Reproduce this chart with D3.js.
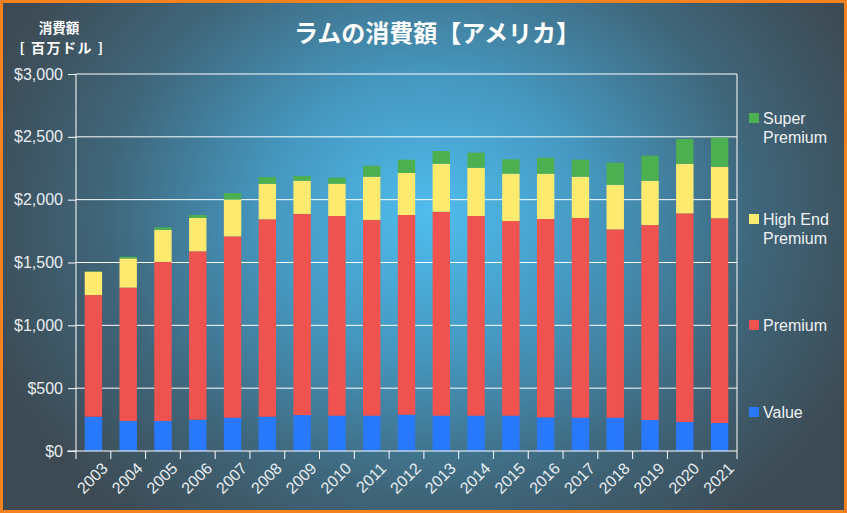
<!DOCTYPE html>
<html><head><meta charset="utf-8">
<script src="https://cdn.jsdelivr.net/npm/d3@7/dist/d3.min.js"></script>
<style>html,body{margin:0;padding:0;background:#fff;}svg{display:block;}</style>
</head><body>
<svg id="c" width="847" height="513"></svg>
<script>
const years = ["2003","2004","2005","2006","2007","2008","2009","2010","2011","2012","2013","2014","2015","2016","2017","2018","2019","2020","2021"];
const valueS = [273,239,239,249,265,273,286,281,281,289,281,281,281,268,265,265,247,231,223];
const premiumS = [968,1061,1265,1340,1443,1571,1600,1589,1557,1589,1623,1589,1549,1578,1589,1499,1551,1660,1629];
const highEndS = [186,233,255,265,292,283,265,257,345,334,382,384,377,361,329,355,353,395,410];
const superS = [3,13,21,24,53,53,37,48,87,106,101,120,114,127,135,175,199,197,231];
const seriesNames = ["Value","Premium","High End Premium","Super Premium"];
const colors = ["#2979ff","#ef5350","#ffea70","#4caf50"];
const yTicks = [0,500,1000,1500,2000,2500,3000];

(function(){
const W=847,H=513;
const svg=d3.select("#c");
const defs=svg.append("defs");
const g1=defs.append("radialGradient").attr("id","bg").attr("gradientUnits","userSpaceOnUse")
 .attr("cx",430).attr("cy",215).attr("r",470).attr("gradientTransform","translate(430,215) scale(1,0.85) translate(-430,-215)");
g1.append("stop").attr("offset","0").attr("stop-color","#4fbdee");
g1.append("stop").attr("offset","0.35").attr("stop-color","#4597bf");
g1.append("stop").attr("offset","0.7").attr("stop-color","#3f6579");
g1.append("stop").attr("offset","1").attr("stop-color","#3d4a53");
svg.append("rect").attr("width",W).attr("height",H).attr("fill","#f5821f");
svg.append("rect").attr("x",3).attr("y",3).attr("width",W-6).attr("height",H-6).attr("fill","url(#bg)");

const pL=76,pR=737,pT=74,pB=451;
const x=d3.scaleBand().domain(years).range([pL,pR]).paddingInner(0.5).paddingOuter(0.25);
const y=d3.scaleLinear().domain([0,3000]).range([pB,pT]);

svg.append("g").selectAll("line").data(yTicks.slice(1)).join("line")
 .attr("x1",pL).attr("x2",pR).attr("y1",d=>y(d)).attr("y2",d=>y(d))
 .attr("stroke","#ffffff").attr("stroke-width",1);

const table=years.map((yr,i)=>({year:yr,"Value":valueS[i],"Premium":premiumS[i],"High End Premium":highEndS[i],"Super Premium":superS[i]}));
const stack=d3.stack().keys(seriesNames)(table);
svg.append("g").selectAll("g").data(stack).join("g").attr("fill",(d,i)=>colors[i])
 .selectAll("rect").data(d=>d).join("rect")
 .attr("x",d=>x(d.data.year)).attr("width",x.bandwidth())
 .attr("y",d=>y(d[1])).attr("height",d=>y(d[0])-y(d[1]));

const yAxis=d3.axisLeft(y).tickValues(yTicks).tickSize(8).tickPadding(5).tickFormat(d=>"$"+d3.format(",")(d));
const ya=svg.append("g").attr("transform",`translate(${pL},0)`).call(yAxis);
ya.attr("font-size",null).attr("font-family",null);
ya.select(".domain").attr("stroke","#fff").attr("d",`M0,${pT}V${pB}`);
ya.selectAll(".tick line").attr("stroke","#fff");
ya.selectAll("text").attr("fill","#e8eef2").attr("x",-13).style("font-family","'Liberation Sans',Arial,sans-serif").style("font-size","16px");

svg.append("line").attr("x1",pR).attr("x2",pR).attr("y1",pT).attr("y2",pB).attr("stroke","#fff");

const xa=svg.append("g");
xa.append("line").attr("x1",pL-9).attr("x2",pR).attr("y1",pB).attr("y2",pB).attr("stroke","#fff");
const bounds=d3.range(years.length+1).map(i=>pL+ i*(pR-pL)/years.length);
xa.selectAll("line.t").data(bounds).join("line").attr("class","t")
 .attr("x1",d=>d).attr("x2",d=>d).attr("y1",pB).attr("y2",pB+8).attr("stroke","#fff");
xa.selectAll("text").data(years).join("text")
 .attr("transform",d=>`translate(${x(d)+x.bandwidth()/2+7},${pB+10}) rotate(-45)`)
 .attr("text-anchor","end").attr("dy","0.75em")
 .attr("fill","#e8eef2").style("font-family","'Liberation Sans',Arial,sans-serif").style("font-size","16px")
 .text(d=>d);

svg.append("text").attr("x",437).attr("y",42).attr("text-anchor","middle")
 .attr("fill","#fff").style("font-family","'Noto Sans CJK JP',sans-serif").style("font-weight","bold").style("font-size","24px")
 .text("ラムの消費額【アメリカ】");
svg.append("text").attr("x",59).attr("y",33).attr("text-anchor","middle")
 .attr("fill","#fff").style("font-family","'Noto Sans CJK JP',sans-serif").style("font-weight","bold").style("font-size","13.5px")
 .text("消費額");
svg.append("text").attr("x",62).attr("y",53).attr("text-anchor","middle")
 .attr("fill","#fff").style("font-family","'Noto Sans CJK JP',sans-serif").style("font-weight","bold").style("font-size","14px").style("letter-spacing","1.5px")
 .text("[ 百万ドル ]");

const legendLines=[["Super","Premium"],["High End","Premium"],["Premium"],["Value"]];
const legendY=[118,219,325,412];
const legendColors=[colors[3],colors[2],colors[1],colors[0]];
const lg=svg.append("g");
legendLines.forEach((lines,i)=>{
  lg.append("rect").attr("x",749).attr("y",legendY[i]-5).attr("width",10).attr("height",10).attr("fill",legendColors[i]);
  const t=lg.append("text").attr("x",763).attr("y",legendY[i]+5.5).attr("fill","#eef2f5")
   .style("font-family","'Liberation Sans',Arial,sans-serif").style("font-size","16px");
  lines.forEach((l,j)=>t.append("tspan").attr("x",763).attr("dy",j?19:0).text(l));
});
})();
</script>
</body></html>
